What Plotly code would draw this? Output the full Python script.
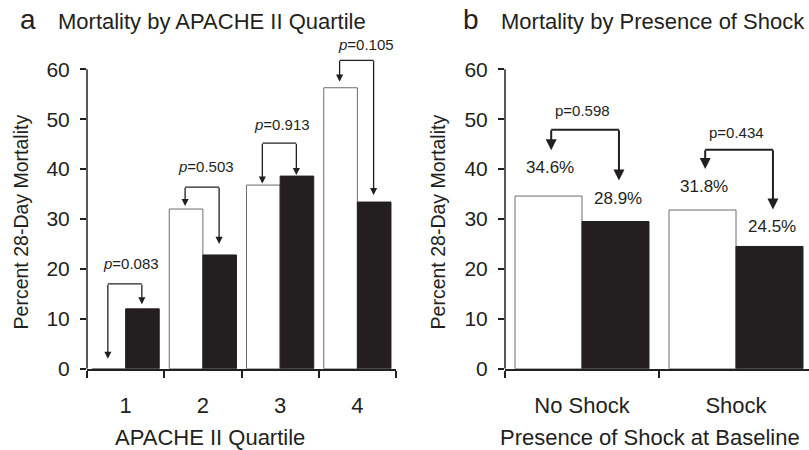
import plotly.graph_objects as go

# ---------------- data ----------------
quartiles = ["1", "2", "3", "4"]
quart_white = [0.0, 32.0, 36.8, 56.3]
quart_black = [12.0, 22.8, 38.6, 33.4]
quart_p = ["0.083", "0.503", "0.913", "0.105"]
quart_bracket_top = [17.0, 36.4, 45.2, 61.8]
quart_tip_left = [2.0, 32.6, 37.1, 57.5]
quart_tip_right = [12.9, 25.0, 38.8, 34.8]
quart_p_y = [21.0, 40.5, 49.0, 65.0]
quart_p_dx = [0.07, 0.04, 0.02, 0.11]

shock_cats = ["No Shock", "Shock"]
shock_white = [34.6, 31.8]
shock_black = [29.5, 24.5]
shock_white_lbl = ["34.6%", "31.8%"]
shock_black_lbl = ["28.9%", "24.5%"]
shock_white_lbl_y = [40.3, 36.6]
shock_black_lbl_y = [34.2, 28.5]
shock_p = ["0.598", "0.434"]
shock_bracket_top = [47.9, 43.9]
shock_tip_left = [43.8, 40.0]
shock_tip_right = [37.7, 31.9]
shock_p_y = [51.8, 47.3]

y_ticks = [0, 10, 20, 30, 40, 50, 60]

# ---------------- layout helpers ----------------
W, H = 809, 450
INK = "#231f20"
FONT = "Liberation Sans, Arial, sans-serif"


def px(x):
    return x / W


def py(y):
    return (H - y) / H


Y_RANGE = [0, 72]
Y_DOM = [py(378), py(378 - 72 * (307 / 60))]

fig = go.Figure()

# panel a bars
fig.add_trace(go.Bar(x=quartiles, y=quart_white, xaxis="x", yaxis="y",
                     marker=dict(color="white", line=dict(color="#6d6d6d", width=1)),
                     showlegend=False))
fig.add_trace(go.Bar(x=quartiles, y=quart_black, xaxis="x", yaxis="y",
                     marker=dict(color=INK, line=dict(color=INK, width=1)),
                     showlegend=False))
# panel b bars
fig.add_trace(go.Bar(x=shock_cats, y=shock_white, xaxis="x2", yaxis="y2",
                     marker=dict(color="white", line=dict(color="#6d6d6d", width=1)),
                     showlegend=False))
fig.add_trace(go.Bar(x=shock_cats, y=shock_black, xaxis="x2", yaxis="y2",
                     marker=dict(color=INK, line=dict(color=INK, width=1)),
                     showlegend=False))

shapes = []
annotations = []

OFF_L = -0.23
OFF_R = 0.21
for i in range(len(quartiles)):
    xl, xr = i + OFF_L, i + OFF_R
    shapes.append(dict(type="line", xref="x", yref="y", x0=xl, x1=xr,
                       y0=quart_bracket_top[i], y1=quart_bracket_top[i],
                       line=dict(color=INK, width=1.3)))
    for xx, tip in ((xl, quart_tip_left[i]), (xr, quart_tip_right[i])):
        annotations.append(dict(xref="x", yref="y", axref="x", ayref="y",
                                x=xx, y=tip, ax=xx, ay=quart_bracket_top[i] + 0.15,
                                text="", showarrow=True, arrowhead=2, arrowsize=1.1,
                                arrowwidth=1.3, arrowcolor=INK, standoff=0))
    annotations.append(dict(xref="x", yref="y", x=i + quart_p_dx[i], y=quart_p_y[i],
                            text="<i>p</i>=" + quart_p[i], showarrow=False,
                            font=dict(family=FONT, size=15, color=INK)))

OFF_L2 = -0.2
OFF_R2 = 0.24
for i in range(len(shock_cats)):
    xl, xr = i + OFF_L2, i + OFF_R2
    shapes.append(dict(type="line", xref="x2", yref="y2", x0=xl, x1=xr,
                       y0=shock_bracket_top[i], y1=shock_bracket_top[i],
                       line=dict(color=INK, width=2)))
    for xx, tip in ((xl, shock_tip_left[i]), (xr, shock_tip_right[i])):
        annotations.append(dict(xref="x2", yref="y2", axref="x2", ayref="y2",
                                x=xx, y=tip, ax=xx, ay=shock_bracket_top[i] + 0.2,
                                text="", showarrow=True, arrowhead=2, arrowsize=1.1,
                                arrowwidth=2, arrowcolor=INK, standoff=0))
    annotations.append(dict(xref="x2", yref="y2", x=i, y=shock_p_y[i],
                            text="p=" + shock_p[i], showarrow=False,
                            font=dict(family=FONT, size=15, color=INK)))
    annotations.append(dict(xref="x2", yref="y2", x=i - 0.21, y=shock_white_lbl_y[i],
                            text=shock_white_lbl[i], showarrow=False,
                            font=dict(family=FONT, size=17, color=INK)))
    annotations.append(dict(xref="x2", yref="y2", x=i + 0.234, y=shock_black_lbl_y[i],
                            text=shock_black_lbl[i], showarrow=False,
                            font=dict(family=FONT, size=17, color=INK)))

# y axis lines that stop at 60
for xr_, yr_ in (("x", "y"), ("x2", "y2")):
    shapes.append(dict(type="line", xref=xr_ + " domain", yref=yr_, x0=0, x1=0,
                       y0=0, y1=60, line=dict(color=INK, width=1.5)))

# titles and axis titles
annotations += [
    dict(xref="paper", yref="paper", x=px(28), y=py(20), text="a", showarrow=False,
         font=dict(family=FONT, size=28, color=INK), xanchor="center", yanchor="middle"),
    dict(xref="paper", yref="paper", x=px(56), y=py(22), text="Mortality by APACHE II Quartile",
         showarrow=False, font=dict(family=FONT, size=22, color=INK), xanchor="left", yanchor="middle"),
    dict(xref="paper", yref="paper", x=px(471), y=py(20), text="b", showarrow=False,
         font=dict(family=FONT, size=28, color=INK), xanchor="center", yanchor="middle"),
    dict(xref="paper", yref="paper", x=px(499), y=py(22), text="Mortality by Presence of Shock",
         showarrow=False, font=dict(family=FONT, size=22, color=INK), xanchor="left", yanchor="middle"),
    dict(xref="paper", yref="paper", x=px(210), y=py(448), text="APACHE II Quartile",
         showarrow=False, font=dict(family=FONT, size=22, color=INK), xanchor="center", yanchor="middle"),
    dict(xref="paper", yref="paper", x=px(650), y=py(448), text="Presence of Shock at Baseline",
         showarrow=False, font=dict(family=FONT, size=22, color=INK), xanchor="center", yanchor="middle"),
    dict(xref="paper", yref="paper", x=px(21), y=py(228), text="Percent 28-Day Mortality",
         textangle=-90, showarrow=False, font=dict(family=FONT, size=19.5, color=INK),
         xanchor="center", yanchor="middle"),
    dict(xref="paper", yref="paper", x=px(438), y=py(228), text="Percent 28-Day Mortality",
         textangle=-90, showarrow=False, font=dict(family=FONT, size=19.5, color=INK),
         xanchor="center", yanchor="middle"),
]

xaxis_common = dict(type="category", showline=True, linecolor=INK, linewidth=1.5,
                    ticks="outside", tickson="boundaries", ticklen=7, tickwidth=1.5,
                    tickcolor=INK, showgrid=False, zeroline=False, ticklabelstandoff=16,
                    tickfont=dict(family=FONT, size=22, color=INK), fixedrange=True)
yaxis_common = dict(range=Y_RANGE, tickvals=y_ticks, showline=False, ticks="outside",
                    ticklen=6, tickwidth=1.5, tickcolor=INK, showgrid=False, zeroline=False,
                    tickfont=dict(family=FONT, size=21, color=INK), ticklabelstandoff=6,
                    domain=Y_DOM)

fig.update_layout(
    width=W, height=H,
    margin=dict(l=0, r=0, t=0, b=0),
    paper_bgcolor="white", plot_bgcolor="white",
    barmode="group", bargap=0.13, bargroupgap=0,
    xaxis=dict(xaxis_common, domain=[px(87), px(396)], range=[-0.5, 3.5], anchor="y"),
    yaxis=dict(yaxis_common, anchor="x"),
    xaxis2=dict(xaxis_common, domain=[px(505), 1.0], range=[-0.5, -0.5 + 304 / 154], anchor="y2"),
    yaxis2=dict(yaxis_common, anchor="x2"),
    shapes=shapes,
    annotations=annotations,
    font=dict(family=FONT, color=INK),
)

fig.write_html("out.html")
